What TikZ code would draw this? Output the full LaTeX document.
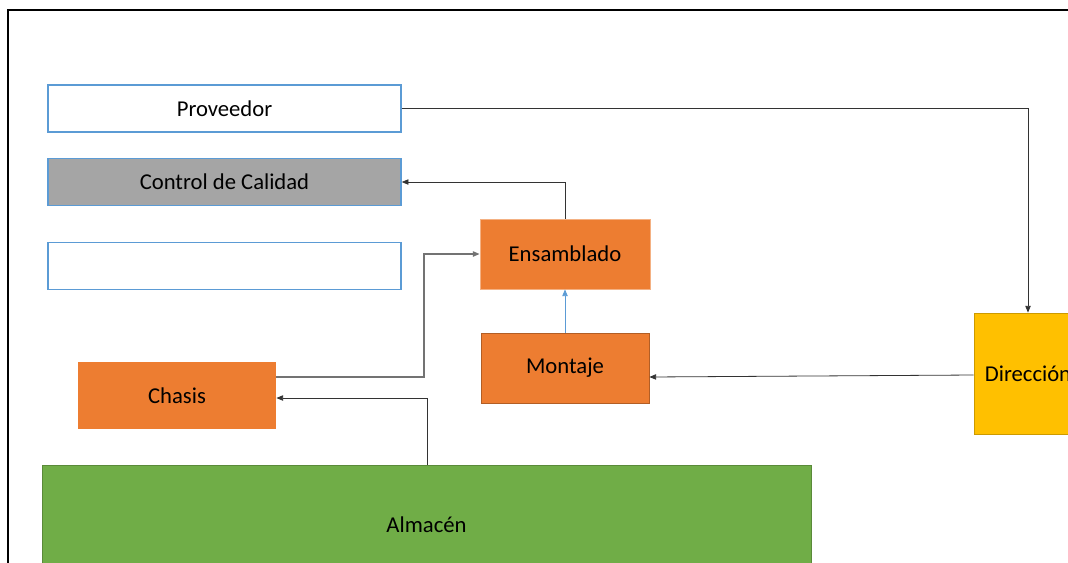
\documentclass[tikz,border=0pt]{standalone}
\usepackage{fontspec}
\setmainfont{Carlito}
\usetikzlibrary{arrows.meta,positioning,calc}
\definecolor{borde}{HTML}{5B9BD5}
\definecolor{naranja}{HTML}{ED7D31}
\definecolor{gris}{HTML}{A5A5A5}
\definecolor{verde}{HTML}{70AD47}
\definecolor{oro}{HTML}{FFC000}

\begin{document}
\begin{tikzpicture}[
    x=0.75pt, y=-0.75pt,
    every node/.style={font=\fontsize{17}{20}\selectfont, inner sep=0pt},
    box/.style={rectangle, draw=borde, line width=1.1pt, minimum width=264.75pt, minimum height=35.5pt},
    proc/.style={rectangle, fill=naranja, draw=naranja!60!white, line width=0.6pt},
    arrow/.style={-{Triangle[length=5pt,width=4pt]}, line width=0.6pt, black!80}
]
\clip (0,0) rectangle (1068,562);
\useasboundingbox (0,0) rectangle (1068,562);

% marco
\draw[line width=1.2pt] (8,10) rectangle (1100,600);

\node[box] (prov) at (224.5,108.5) {Proveedor};
\node[box, fill=gris] (ctrl) at (224.5,182) {Control de Calidad};
\node[box] (vacio) at (224.5,266) {};

\node[proc, minimum width=127.5pt, minimum height=52.5pt] (ens) at (565,254) {Ensamblado};
\node[proc, draw=naranja!75!black, minimum width=126pt, minimum height=52.5pt] (mont) at (565,368) {Montaje};
\node[proc, draw=none, minimum width=148.5pt, minimum height=50.25pt] (chasis) at (177,395.5) {Chasis};
\node[rectangle, fill=verde, draw=verde!80!black, line width=0.6pt, minimum width=576.75pt, minimum height=90pt] (alm) at (426.5,525) {Almac\'en};
\node[rectangle, fill=oro, draw=oro!80!black, line width=0.6pt, minimum width=81pt, minimum height=90.75pt] (dir) at (1028,373.5) {Direcci\'on};

\draw[arrow] (prov.east) -| (dir.north);
\draw[arrow] (ens.north) |- (ctrl.east);
\draw[arrow, black!55, line width=0.9pt] (chasis.east |- 0,377) -| (424,254) -- (ens.west);
\draw[arrow] (alm.north -| 427,0) |- (chasis.east |- 0,398);
\draw[arrow, borde] (mont.north) -- (ens.south);
\draw[arrow] (dir.west |- 0,375) -- (mont.east |- 0,377);

\end{tikzpicture}
\end{document}
